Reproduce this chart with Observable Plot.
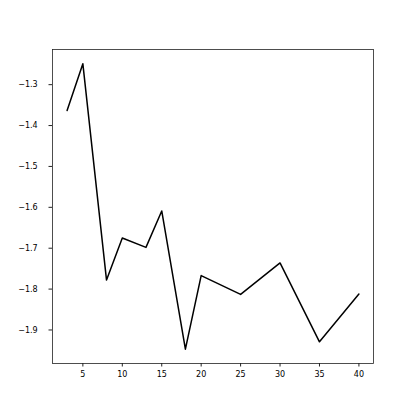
<!DOCTYPE html>
<html>
<head>
<meta charset="utf-8">
<script src="https://cdn.jsdelivr.net/npm/d3@7"></script>
<script src="https://cdn.jsdelivr.net/npm/@observablehq/plot@0.6"></script>
<style>
  html, body { margin: 0; padding: 0; background: #fff; }
  #chart svg { display: block; }
</style>
</head>
<body>
<div id="chart"></div>
<script>
const xValues = [3, 5, 8, 10, 13, 15, 18, 20, 25, 30, 35, 40];
const yValues = [-1.363, -1.249, -1.778, -1.675, -1.698, -1.609, -1.947, -1.767, -1.813, -1.736, -1.929, -1.812];
const xTicks = [5, 10, 15, 20, 25, 30, 35, 40];
const yTicks = [-1.9, -1.8, -1.7, -1.6, -1.5, -1.4, -1.3];

const data = xValues.map((x, i) => ({x, y: yValues[i]}));
const fmt = d => (d < 0 ? "\u2212" : "") + Math.abs(d).toFixed(1);

const chart = Plot.plot({
  width: 415,
  height: 415,
  marginLeft: 52,
  marginRight: 42,
  marginTop: 49,
  marginBottom: 52,
  style: {fontFamily: "DejaVu Sans", fontSize: "8px", color: "#000", background: "#fff"},
  x: {domain: [1.15, 41.85], ticks: xTicks, label: null},
  y: {domain: [-1.982, -1.214], ticks: yTicks, label: null, tickFormat: fmt},
  marks: [
    Plot.frame({stroke: "#222", strokeWidth: 0.8}),
    Plot.axisX({ticks: xTicks, tickSize: 3.5, tickPadding: 4.5, label: null, stroke: "#222"}),
    Plot.axisY({ticks: yTicks, tickSize: 3.5, tickPadding: 11.3, label: null, tickFormat: fmt, stroke: "#222"}),
    Plot.line(data, {x: "x", y: "y", stroke: "#000", strokeWidth: 1.5})
  ]
});
document.getElementById("chart").appendChild(chart);
</script>
</body>
</html>
